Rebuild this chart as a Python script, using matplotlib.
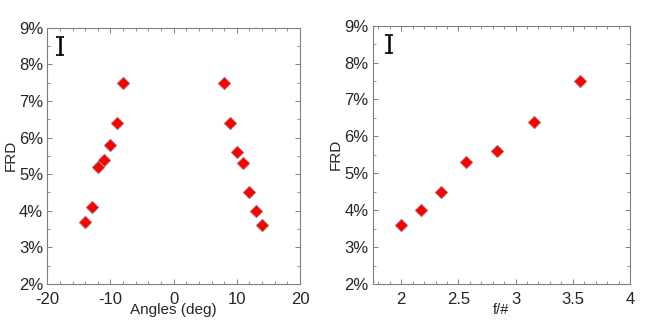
import numpy as np
import matplotlib.pyplot as plt
from matplotlib.ticker import MultipleLocator, FuncFormatter

plt.rcParams['font.family'] = ['Liberation Sans', 'DejaVu Sans']

# left panel: FRD vs field angle
angles = [-14, -13, -12, -11, -10, -9, -8, 8, 9, 10, 11, 12, 13, 14]
frd_angle = [3.7, 4.1, 5.2, 5.4, 5.8, 6.4, 7.5, 7.5, 6.4, 5.6, 5.3, 4.5, 4.0, 3.6]

# right panel: FRD vs f-number
fnum = [2.0, 2.17, 2.35, 2.57, 2.84, 3.16, 3.56]
frd_fnum = [3.6, 4.0, 4.5, 5.3, 5.6, 6.4, 7.5]

# typical error bar shown in the corner
err_pos_left = (-18, 8.5)
err_pos_right = (1.89, 8.5)
err_size = 0.25

grey = '#7f7f7f'
txt = '#262626'

fig = plt.figure(figsize=(6.6, 3.32), dpi=100)
ax1 = fig.add_axes([0.0717, 0.1446, 0.3828, 0.772])
ax2 = fig.add_axes([0.5647, 0.1446, 0.3898, 0.778])


def style(ax):
    for s in ax.spines.values():
        s.set_color(grey)
        s.set_linewidth(0.8)
    ax.tick_params(which='both', direction='in', top=True, right=True,
                   color=grey, labelcolor=txt, labelsize=12)
    ax.tick_params(which='major', length=3.5, width=0.7)
    ax.tick_params(which='minor', length=2, width=0.6)
    ax.tick_params(axis='x', pad=6)
    ax.tick_params(axis='y', pad=3)
    ax.set_ylim(2, 9)
    ax.yaxis.set_major_locator(MultipleLocator(1))
    ax.yaxis.set_minor_locator(MultipleLocator(0.5))
    ax.yaxis.set_major_formatter(FuncFormatter(lambda v, p: '%d%%' % round(v)))
    ax.set_ylabel('FRD', fontsize=11, color=txt, labelpad=1)


ax1.scatter(angles, frd_angle, marker='D', s=42, color='#ff0000',
            edgecolors='#909090', linewidths=0.5, zorder=3)
ax1.errorbar([err_pos_left[0]], [err_pos_left[1]], yerr=err_size, fmt='none',
             ecolor='black', elinewidth=1.8, capsize=3, capthick=1.2)
style(ax1)
ax1.set_xlim(-20, 20)
ax1.xaxis.set_major_locator(MultipleLocator(10))
ax1.xaxis.set_minor_locator(MultipleLocator(2))
ax1.xaxis.set_major_formatter(FuncFormatter(lambda v, p: '%d' % v))
ax1.set_xlabel('Angles (deg)', fontsize=11, color=txt, labelpad=-3)

ax2.scatter(fnum, frd_fnum, marker='D', s=42, color='#ff0000',
            edgecolors='#909090', linewidths=0.5, zorder=3)
ax2.errorbar([err_pos_right[0]], [err_pos_right[1]], yerr=err_size, fmt='none',
             ecolor='black', elinewidth=1.8, capsize=3, capthick=1.2)
style(ax2)
ax2.set_xlim(1.75, 4)
ax2.xaxis.set_major_locator(MultipleLocator(0.5))
ax2.xaxis.set_minor_locator(MultipleLocator(0.1))
ax2.xaxis.set_major_formatter(FuncFormatter(lambda v, p: '%g' % v))
ax2.set_xlabel('f/#', fontsize=10.5, color=txt, labelpad=-3)

fig.savefig('out.png', dpi=100)
